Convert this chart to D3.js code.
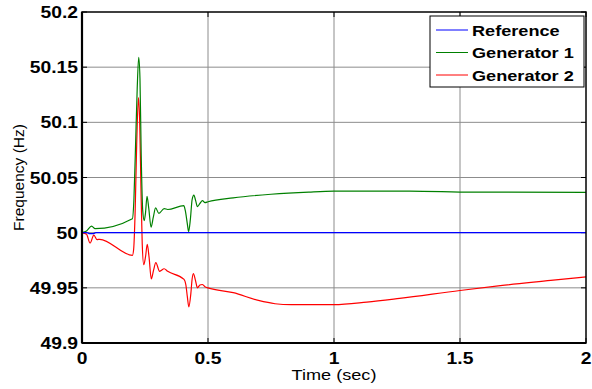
<!DOCTYPE html>
<html>
<head>
<meta charset="utf-8">
<script src="https://cdn.jsdelivr.net/npm/d3@7/dist/d3.min.js"></script>
<style>
  body { margin: 0; background: #fff; }
  text { font-family: Arial, "Liberation Sans", sans-serif; }
</style>
</head>
<body>
<div id="chart"></div>
<script>
// values
var refT = [0, 0.02, 0.03, 0.045, 0.055, 2];
var refF = [50, 50, 49.9992, 49.9992, 50, 50];

var gen1T = [0, 0.018, 0.038, 0.052, 0.2, 0.206, 0.212, 0.219, 0.225, 0.23, 0.235, 0.241, 0.247, 0.252,
  0.258, 0.265, 0.274, 0.283, 0.292, 0.305, 0.326, 0.34, 0.404, 0.41, 0.418, 0.423, 0.43, 0.437, 0.444,
  0.451, 0.458, 0.468, 0.478, 0.488, 0.5, 0.6, 0.75, 0.9, 1.0, 1.3, 1.55, 2.0];
var gen1F = [50, 50.0015, 50.006, 50.0036, 50.0127, 50.03, 50.075, 50.13, 50.159, 50.14, 50.07, 50.02, 50.011, 50.018,
  50.033, 50.022, 50.005, 50.014, 50.0225, 50.0175, 50.0218, 50.021, 50.0245, 50.02, 50.008, 50.001, 50.012, 50.03, 50.034,
  50.029, 50.0236, 50.0265, 50.029, 50.0272, 50.028, 50.0315, 50.0348, 50.0368, 50.0376, 50.0377, 50.0367, 50.0366];

var gen2T = [0, 0.018, 0.032, 0.047, 0.06, 0.07, 0.2, 0.205, 0.211, 0.217, 0.224, 0.229, 0.234, 0.239, 0.245,
  0.252, 0.259, 0.266, 0.275, 0.284, 0.293, 0.308, 0.326, 0.34, 0.405, 0.412, 0.418, 0.424, 0.432, 0.437,
  0.442, 0.45, 0.458, 0.468, 0.477, 0.488, 0.5, 0.6, 0.7, 0.766, 0.83, 1.0, 1.13, 1.26, 1.5, 1.66, 1.86, 2.0];
var gen2F = [50, 49.9985, 49.9905, 49.9977, 49.9937, 49.994, 49.9795, 49.985, 50.02, 50.08, 50.1225, 50.1, 50.04, 49.99, 49.971,
  49.978, 49.9894, 49.978, 49.958, 49.966, 49.9728, 49.965, 49.9673, 49.965, 49.9576, 49.953, 49.942, 49.9328, 49.945, 49.958,
  49.963, 49.957, 49.95, 49.9525, 49.953, 49.951, 49.95, 49.9456, 49.9386, 49.9356, 49.9347, 49.9347, 49.937, 49.9404, 49.9476, 49.952, 49.9567, 49.96];

var xTicks = [0, 0.5, 1, 1.5, 2];
var xTickLabels = ["0", "0.5", "1", "1.5", "2"];
var yTicks = [49.9, 49.95, 50, 50.05, 50.1, 50.15, 50.2];
var yTickLabels = ["49.9", "49.95", "50", "50.05", "50.1", "50.15", "50.2"];

var seriesNames = ["Reference", "Generator 1", "Generator 2"];
var seriesColors = ["#0000ff", "#008000", "#ff0000"];

var W = 592, H = 389;
var margin = {top: 12, right: 6, bottom: 46, left: 82};
var width = W - margin.left - margin.right,
    height = H - margin.top - margin.bottom;
var SX = 1.17; // the picture's text is a little wide

var svg = d3.select("#chart").append("svg")
  .attr("width", W).attr("height", H);
var g = svg.append("g")
  .attr("transform", "translate(" + margin.left + "," + margin.top + ")");

var x = d3.scaleLinear().domain([0, 2]).range([0, width]);
var y = d3.scaleLinear().domain([49.9, 50.2]).range([height, 0]);

// grid
g.selectAll(".gx").data(xTicks.slice(1, -1)).enter().append("line")
  .attr("x1", d => x(d)).attr("x2", d => x(d))
  .attr("y1", 0).attr("y2", height)
  .attr("stroke", "#8c8c8c").attr("stroke-width", 1);
g.selectAll(".gy").data(yTicks.slice(1, -1)).enter().append("line")
  .attr("x1", 0).attr("x2", width)
  .attr("y1", d => y(d)).attr("y2", d => y(d))
  .attr("stroke", "#8c8c8c").attr("stroke-width", 1);

// inward ticks on all four sides
var TK = 5;
xTicks.forEach(function(t) {
  g.append("line").attr("x1", x(t)).attr("x2", x(t)).attr("y1", height).attr("y2", height - TK).attr("stroke", "#000");
  g.append("line").attr("x1", x(t)).attr("x2", x(t)).attr("y1", 0).attr("y2", TK).attr("stroke", "#000");
});
yTicks.forEach(function(v) {
  g.append("line").attr("x1", 0).attr("x2", TK).attr("y1", y(v)).attr("y2", y(v)).attr("stroke", "#000");
  g.append("line").attr("x1", width).attr("x2", width - TK).attr("y1", y(v)).attr("y2", y(v)).attr("stroke", "#000");
});

// lines
var line = d3.line().x(d => x(d[0])).y(d => y(d[1])).curve(d3.curveMonotoneX);
var series = [d3.zip(refT, refF), d3.zip(gen1T, gen1F), d3.zip(gen2T, gen2F)];
// red first, then green, blue on top
[2, 1, 0].forEach(function(i) {
  g.append("path").datum(series[i])
    .attr("fill", "none")
    .attr("stroke", seriesColors[i])
    .attr("stroke-width", 1.2)
    .attr("stroke-linejoin", "round")
    .attr("d", line);
});

// box
g.append("rect").attr("x", 0).attr("y", 0).attr("width", width).attr("height", height)
  .attr("fill", "none").attr("stroke", "#000").attr("stroke-width", 1.5);
g.append("line").attr("x1", 0).attr("x2", 0).attr("y1", 0).attr("y2", height)
  .attr("stroke", "#000").attr("stroke-width", 2.2);
g.append("line").attr("x1", 0).attr("x2", width).attr("y1", height).attr("y2", height)
  .attr("stroke", "#000").attr("stroke-width", 2.2);

// tick labels
function wideText(parent, tx, ty, str, anchor, size, weight) {
  return parent.append("text")
    .attr("transform", "translate(" + tx + "," + ty + ") scale(" + SX + ",1)")
    .attr("text-anchor", anchor)
    .attr("font-size", size)
    .attr("font-weight", weight)
    .attr("fill", "#000")
    .text(str);
}
yTicks.forEach(function(v, i) {
  wideText(g, -4, y(v) + 6, yTickLabels[i], "end", 16.5, "bold");
});
xTicks.forEach(function(t, i) {
  wideText(g, x(t), height + 21, xTickLabels[i], "middle", 16.5, "bold");
});

// axis titles
wideText(g, width / 2, height + 37, "Time (sec)", "middle", 15.5, "normal");
svg.append("text")
  .attr("transform", "translate(24," + (margin.top + height / 2) + ") rotate(-90)")
  .attr("text-anchor", "middle")
  .attr("font-size", 15.5)
  .attr("fill", "#000")
  .text("Frequency (Hz)");

// legend
var lg = svg.append("g").attr("transform", "translate(430,16)");
lg.append("rect").attr("x", 0).attr("y", 0).attr("width", 154).attr("height", 71)
  .attr("fill", "#fff").attr("stroke", "#000").attr("stroke-width", 1);
seriesNames.forEach(function(name, i) {
  var ly = 14 + i * 22.5;
  lg.append("line").attr("x1", 6).attr("x2", 38).attr("y1", ly).attr("y2", ly)
    .attr("stroke", seriesColors[i]).attr("stroke-width", 1);
  wideText(lg, 42, ly + 5.5, name, "start", 15.5, "bold");
});
</script>
</body>
</html>
